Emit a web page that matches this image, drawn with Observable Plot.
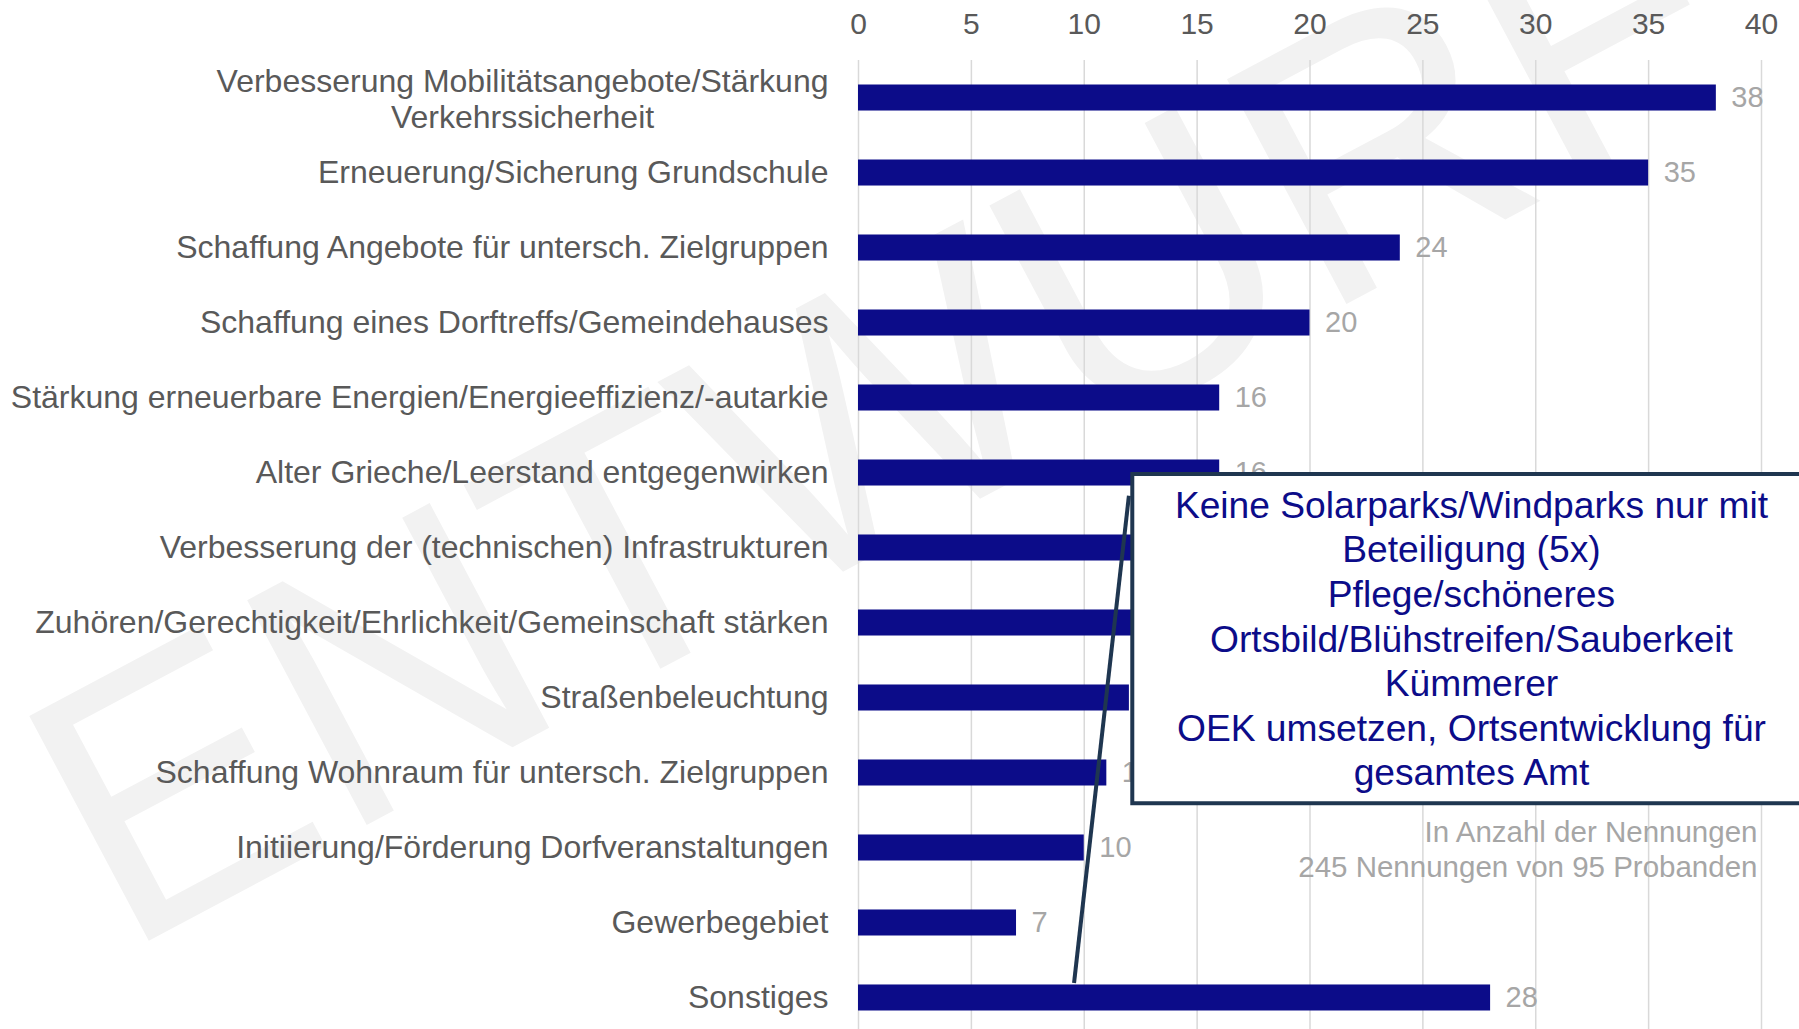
<!DOCTYPE html>
<html><head><meta charset="utf-8">
<script src="https://cdn.jsdelivr.net/npm/d3@7"></script>
<script src="https://cdn.jsdelivr.net/npm/@observablehq/plot@0.6"></script>
<style>
html,body{margin:0;padding:0;background:#fff;}
#chart{width:1799px;height:1029px;overflow:hidden;position:relative;}
</style></head><body><div id="chart"></div>
<script>
// ---- data ----
const categories = [
  "Verbesserung Mobilitätsangebote/Stärkung\nVerkehrssicherheit",
  "Erneuerung/Sicherung Grundschule",
  "Schaffung Angebote für untersch. Zielgruppen",
  "Schaffung eines Dorftreffs/Gemeindehauses",
  "Stärkung erneuerbare Energien/Energieeffizienz/-autarkie",
  "Alter Grieche/Leerstand entgegenwirken",
  "Verbesserung der (technischen) Infrastrukturen",
  "Zuhören/Gerechtigkeit/Ehrlichkeit/Gemeinschaft stärken",
  "Straßenbeleuchtung",
  "Schaffung Wohnraum für untersch. Zielgruppen",
  "Initiierung/Förderung Dorfveranstaltungen",
  "Gewerbegebiet",
  "Sonstiges"
];
const values = [38, 35, 24, 20, 16, 16, 14, 14, 12, 11, 10, 7, 28];
const xTicks = [0, 5, 10, 15, 20, 25, 30, 35, 40];
const captionLines = ["In Anzahl der Nennungen", "245 Nennungen von 95 Probanden"];
const noteLines = [
  "Keine Solarparks/Windparks nur mit",
  "Beteiligung (5x)",
  "Pflege/schöneres",
  "Ortsbild/Blühstreifen/Sauberkeit",
  "Kümmerer",
  "OEK umsetzen, Ortsentwicklung für",
  "gesamtes Amt"
];
const watermarkText = "ENTWURF";

// annotation placement (data units / row indices)
const noteBox = {x1: 12.15, x2: 42.2, topRow: 5, topOffset: 0.02, bottomRow: 9, bottomOffset: 0.41};
const noteLeader = {xTop: 12.0, topRow: 5, topOffset: 0.31, xBottom: 9.57, bottomRow: 12};

// ---- styles ----
const FONT = '"Liberation Sans", Arial, Helvetica, sans-serif';
const BAR = "#0c0c89";
const DARK = "#1f3650";
const LABEL = "#595959";
const LIGHT = "#a6a6a6";

const data = categories.map((c, i) => ({cat: c, value: values[i]}));

const ctx = document.createElement("canvas").getContext("2d");
ctx.font = `32px ${FONT}`;
const firstLineW = ctx.measureText(categories[0].split("\n")[0]).width;

const plot = Plot.plot({
  width: 1799, height: 1029,
  marginLeft: 858, marginRight: 38, marginTop: 60, marginBottom: 0,
  style: {fontFamily: FONT, background: "transparent", overflow: "hidden"},
  x: {domain: [0, 40], axis: null},
  y: {domain: categories, range: [60, 1035], paddingInner: 0.653, paddingOuter: 0.3267, round: false, axis: null},
  marks: [
    Plot.gridX({ticks: xTicks, stroke: "#d9d9d9", strokeOpacity: 1, strokeWidth: 1.5}),
    Plot.axisX({ticks: xTicks, anchor: "top", tickSize: 0, tickPadding: 27, fontSize: 30, fill: LABEL, label: null}),
    Plot.barX(data, {x: "value", y: "cat", fill: BAR}),
    Plot.text(data, {x: "value", y: "cat", text: d => String(d.value), dx: 15, textAnchor: "start", fill: LIGHT, fontSize: 29}),
    Plot.text(data.slice(1), {x: 0, y: "cat", text: "cat", dx: -30, textAnchor: "end", fill: LABEL, fontSize: 32}),
    Plot.text(data.slice(0, 1), {x: 0, y: "cat", text: "cat", dx: -(30 + firstLineW / 2), textAnchor: "middle", lineHeight: 1.125, fill: LABEL, fontSize: 32}),
    Plot.text([captionLines.join("\n")], {x: () => 40, y: () => categories[10], text: d => d, dx: -4, textAnchor: "end", lineHeight: 1.22, fill: LIGHT, fontSize: 29.5})
  ]
});

document.getElementById("chart").appendChild(plot);
const svgEl = plot.tagName.toLowerCase() === "svg" ? plot : plot.querySelector("svg");
const svg = d3.select(svgEl);
const sx = plot.scale("x"), sy = plot.scale("y");
const X = v => sx.apply(v);
const bw = sy.bandwidth;
const step = sy.step != null ? sy.step : (sy.apply(categories[1]) - sy.apply(categories[0]));
const Yc = i => sy.apply(categories[i]) + bw / 2;

// watermark behind everything
const firstG = svgEl.querySelector("g");
const wm = document.createElementNS("http://www.w3.org/2000/svg", "text");
svgEl.insertBefore(wm, firstG);
d3.select(wm)
  .attr("transform", "translate(122,955) rotate(-28)")
  .attr("text-anchor", "start")
  .attr("font-size", 370)
  .attr("font-family", FONT)
  .attr("fill", "#f2f2f2")
  .text(watermarkText);

// leader line
svg.append("line")
  .attr("x1", X(noteLeader.xTop)).attr("y1", Yc(noteLeader.topRow) + noteLeader.topOffset * step)
  .attr("x2", X(noteLeader.xBottom)).attr("y2", sy.apply(categories[noteLeader.bottomRow]) - 1.5)
  .attr("stroke", DARK).attr("stroke-width", 4);

// annotation box
const bx1 = X(noteBox.x1), bx2 = X(noteBox.x2);
const by1 = Yc(noteBox.topRow) + noteBox.topOffset * step;
const by2 = Yc(noteBox.bottomRow) + noteBox.bottomOffset * step;
svg.append("rect")
  .attr("x", bx1).attr("y", by1).attr("width", bx2 - bx1).attr("height", by2 - by1)
  .attr("fill", "#fff").attr("stroke", DARK).attr("stroke-width", 4);
const fs = 37.2, lh = 44.6;
const cx = (bx1 + bx2) / 2, cy = (by1 + by2) / 2;
const t = svg.append("text")
  .attr("text-anchor", "middle").attr("font-family", FONT).attr("font-size", fs).attr("fill", BAR);
noteLines.forEach((ln, i) => {
  t.append("tspan").attr("x", cx)
    .attr("y", cy + (i - (noteLines.length - 1) / 2) * lh)
    .attr("dy", "0.35em").text(ln);
});
</script>
</body></html>
